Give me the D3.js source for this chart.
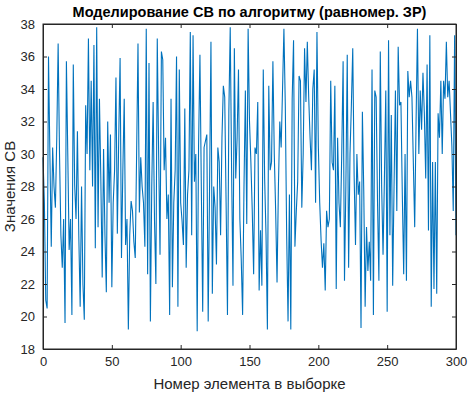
<!DOCTYPE html>
<html><head><meta charset="utf-8">
<script src="https://cdn.jsdelivr.net/npm/d3@7"></script>
<style>body{margin:0;background:#fff}svg{display:block}text{font-family:"Liberation Sans",Arial,sans-serif}</style>
</head><body><svg id="c" width="474" height="393"></svg>
<script>
const values = [29.8,27,21,20.5,36,30,24.3,30.4,28,26.7,31,36.8,30,25,23,26,19.6,35.7,30,24.1,26,20.1,35.5,28.1,
26,31.4,25,20.6,28,22,19.8,33,30,37.1,29,34.5,28,36.7,24.2,37.8,25.5,33.4,28.5,22.4,30.3,25,21.5,32,27,
31.2,21.8,27,29,34.7,25.1,31,35.9,23.6,29,33.4,24.4,26,19.2,25,27.1,26.5,24.6,23.6,30,36.8,26.4,29.8,28,
27,24.3,37.7,22.6,35.6,19.7,28,33.2,25.9,22,37.1,30,23.8,36.3,35.8,29,31,26,27.5,20.1,33.4,21.8,27,29,36,
20.6,35.2,27,25.9,24.4,32.8,23,27.5,29,37.5,25,37.3,28.3,30,19.1,30.5,36.1,28,20.3,30.4,30.8,31.2,19.7,28,36.9,
21.4,28,26.7,23.2,30.4,29.5,25,31,34.2,33.5,27,20.1,32.6,37.8,29,21.9,36.5,28.5,31,35.2,26,23.5,20.1,28,33.9,
25.7,37.7,32,29.5,26.5,22.6,30.4,30,33.2,21.6,25.3,21.9,35.2,28.5,25,19.2,34.2,29,29.5,35.7,30,26.5,22.1,28,32,
30.4,34,37.7,33,25,19.7,27.5,19.2,33.4,37,24.3,26.5,28.3,34.8,34.5,26.7,30,36.5,33.2,36.9,33.5,31,29,34,35.2,
27,37.5,30.5,27,24.7,23,24.5,21.6,26.5,25.5,26,34.5,29.5,29,34.2,21.7,31,27,25.5,30,35.7,22.2,28,36.1,
23,30,33,36.5,28.7,24.4,30,27.5,28.3,19.3,32.6,27.7,20.6,25.5,22.8,24.6,22.2,35.2,20.1,33.9,33.5,27,22.2,36.3,28,
23.8,28.5,33.9,20.3,37,25,32.4,21.9,28,33.9,26.5,36.6,33,33.2,27.5,22.6,30,22.2,35.1,33.5,34.5,33.5,29.5,25.5,32,
37.7,30,33.9,31.5,35,32.5,28.5,35.5,25.3,37.3,20.6,29.5,21.7,29.5,21.4,32.5,31,34.5,30,34.5,33.4,36.9,33.5,34.5,32.5,30.5,26.5,37.3,25];
const xTicks = [0,50,100,150,200,250,300];
const yTicks = [18,20,22,24,26,28,30,32,34,36,38];
const title = "Моделирование СВ по алгоритму (равномер. ЗР)";
const xLabel = "Номер элемента в выборке";
const yLabel = "Значения СВ";

const svg = d3.select("#c");
const L=43, R=456, T=24, B=349;
const x = d3.scaleLinear().domain([0,300]).range([L,R]);
const y = d3.scaleLinear().domain([18,38]).range([B,T]);
const ax = "#262626";

svg.append("path").datum(values)
  .attr("fill","none").attr("stroke","#0072BD").attr("stroke-width",1.1)
  .attr("d", d3.line().x((d,i)=>x(i)).y(d=>y(d)));

const tick = 4;
const bx = d3.axisBottom(x).tickValues(xTicks).tickSizeInner(-tick).tickSizeOuter(0).tickPadding(8);
const ly = d3.axisLeft(y).tickValues(yTicks).tickSizeInner(-tick).tickSizeOuter(0).tickPadding(8);
const tx = d3.axisTop(x).tickValues(xTicks).tickSizeInner(-tick).tickSizeOuter(0).tickFormat("");
const ry = d3.axisRight(y).tickValues(yTicks).tickSizeInner(-tick).tickSizeOuter(0).tickFormat("");
[[bx,`translate(0,${B})`],[ly,`translate(${L},0)`],[tx,`translate(0,${T})`],[ry,`translate(${R},0)`]].forEach(([a,t])=>{
  const gg = svg.append("g").attr("transform",t).call(a);
  gg.selectAll("path").attr("stroke",ax).attr("stroke-width",1);
  gg.selectAll("line").attr("stroke",ax);
  gg.selectAll("text").attr("fill",ax).attr("font-size",13).attr("font-family","Liberation Sans, Arial, sans-serif");
});
svg.append("rect").attr("x",L).attr("y",T).attr("width",R-L).attr("height",B-T)
  .attr("fill","none").attr("stroke",ax).attr("stroke-width",1);

svg.append("text").attr("x",(L+R)/2).attr("y",17).attr("text-anchor","middle")
  .attr("font-size",14.5).attr("font-weight","bold").attr("fill","#000").text(title);
svg.append("text").attr("x",(L+R)/2).attr("y",389).attr("text-anchor","middle")
  .attr("font-size",15).attr("fill",ax).text(xLabel);
svg.append("text").attr("transform",`translate(15,${(T+B)/2}) rotate(-90)`).attr("text-anchor","middle")
  .attr("font-size",15).attr("fill",ax).text(yLabel);
</script></body></html>
